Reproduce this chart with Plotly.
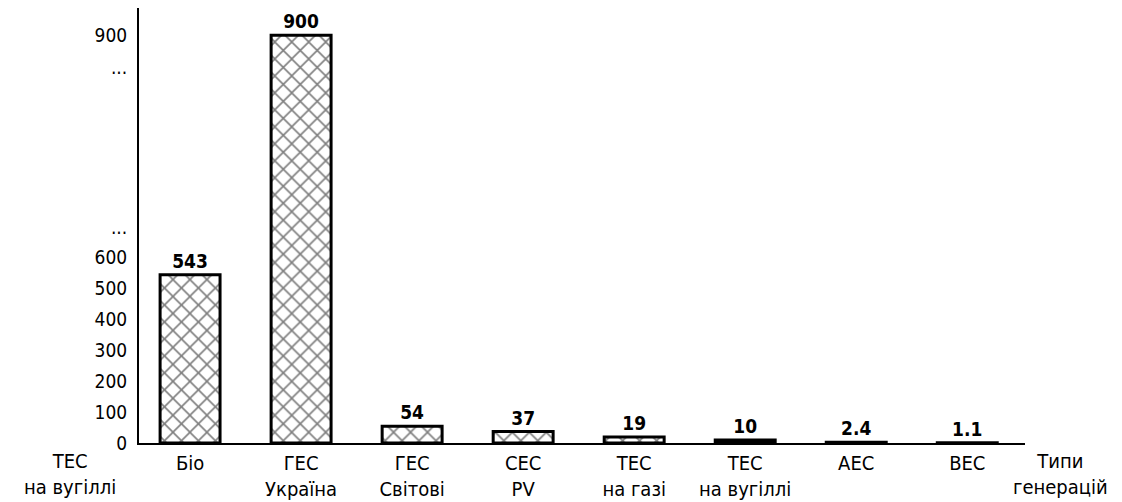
import plotly.graph_objects as go

categories = ["Біо", "ГЕС<br>Україна", "ГЕС<br>Світові", "СЕС<br>PV",
              "ТЕС<br>на газі", "ТЕС<br>на вугіллі", "АЕС", "ВЕС"]
values = [543, 900, 54, 37, 19, 10, 2.4, 1.1]
value_labels = ["543", "900", "54", "37", "19", "10", "2.4", "1.1"]
y_ticks = [0, 100, 200, 300, 400, 500, 600, 900]

FONT = "Liberation Sans Narrow, DejaVu Sans Condensed, Arial Narrow, sans-serif"
FS = 20

# broken axis: linear up to 600, compressed above
BREAK = 600
UPPER_FACTOR = 715 / 300.0


def to_display(v):
    if v <= BREAK:
        return v
    return BREAK + (v - BREAK) * UPPER_FACTOR


disp_vals = [to_display(v) for v in values]
tickvals = [to_display(t) for t in y_ticks] + [694, 1213]
ticktext = [str(t) for t in y_ticks] + ["...", "..."]

fig = go.Figure()
fig.add_trace(go.Bar(
    x=categories,
    y=disp_vals,
    width=0.54,
    marker=dict(
        color="white",
        line=dict(color="black", width=3),
        pattern=dict(shape="x", fgcolor="black", bgcolor="white", size=12, solidity=0.25),
    ),
    text=value_labels,
    textposition="outside",
    textfont=dict(family=FONT, size=19, color="black", weight="bold"),
    cliponaxis=False,
    hoverinfo="skip",
))

fig.update_layout(
    width=1122, height=502,
    margin=dict(l=139, r=97, t=8, b=59, autoexpand=False),
    paper_bgcolor="white", plot_bgcolor="white",
    showlegend=False,
    font=dict(family=FONT, size=FS, color="black"),
)
fig.update_xaxes(
    type="category",
    range=[-0.46, 7.52],
    automargin=False,
    showline=True, linecolor="black", linewidth=2,
    showgrid=False, ticks="", ticklabelstandoff=1,
    tickfont=dict(family=FONT, size=FS, color="black"),
)
fig.update_yaxes(
    range=[0, 1403],
    automargin=False,
    showline=True, linecolor="black", linewidth=2,
    showgrid=False, zeroline=False, ticks="",
    tickvals=tickvals, ticktext=ticktext,
    ticklabelstandoff=6,
    tickfont=dict(family=FONT, size=19, color="black"),
)

fig.add_annotation(text="ТЕС<br>на вугіллі", xref="paper", yref="paper",
                   x=-0.078, y=-0.01, xanchor="center", yanchor="top",
                   showarrow=False, font=dict(family=FONT, size=FS, color="black"))
fig.add_annotation(text="Типи<br>генерацій", xref="paper", yref="paper",
                   x=1.04, y=-0.01, xanchor="center", yanchor="top",
                   showarrow=False, font=dict(family=FONT, size=FS, color="black"))

fig.write_html("out.html",
               config={"displayModeBar": False},
               post_script="document.body.style.margin='0';document.body.style.overflow='hidden';")
